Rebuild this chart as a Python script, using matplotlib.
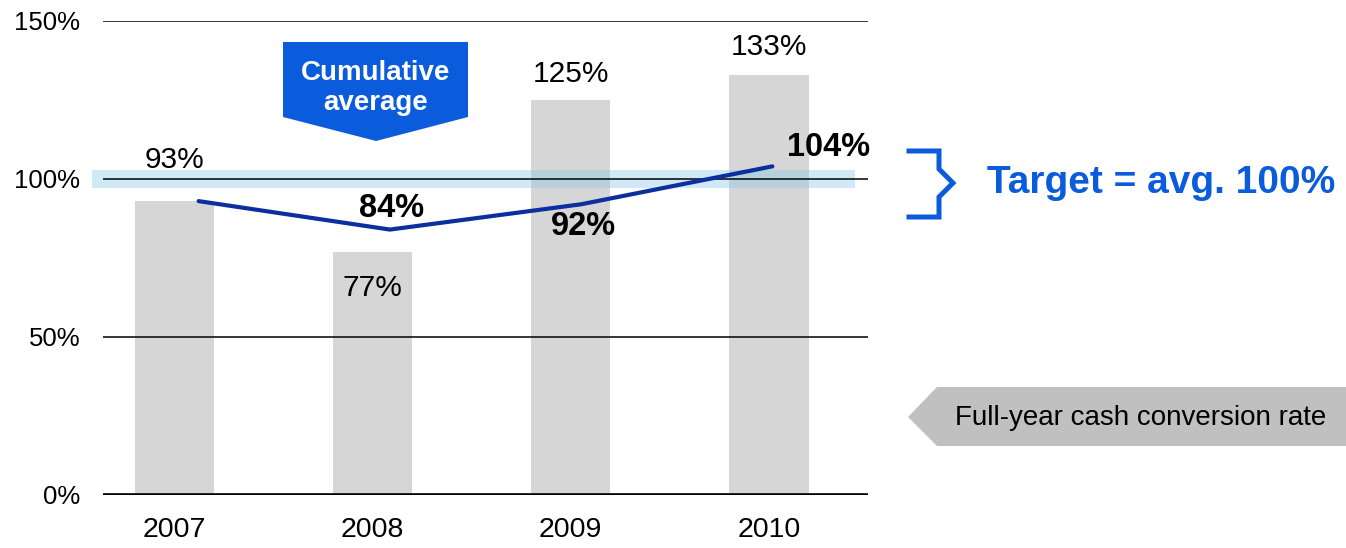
import matplotlib
matplotlib.use("Agg")
import matplotlib.pyplot as plt
from matplotlib.patches import Polygon
from matplotlib.lines import Line2D

plt.rcParams['font.family'] = ['Liberation Sans', 'DejaVu Sans']

# Data
years = ["2007", "2008", "2009", "2010"]
annual_rate = [93, 77, 125, 133]          # full-year cash conversion rate, %
cumulative_avg = [93, 84, 92, 104]        # cumulative average, %
y_ticks = [0, 50, 100, 150]
target_band = (97, 103)

BLUE = '#0A5CDC'
NAVY = '#0B2F9E'
BAR_GREY = '#D6D6D6'

W, H = 1346, 548
fig = plt.figure(figsize=(W / 100, H / 100), dpi=100)


def fx(px):
    return px / W


def fy(py):
    return 1 - py / H


ax = fig.add_axes([fx(103), fy(495), fx(868) - fx(103), fy(21) - fy(495)])
xs = list(range(len(years)))
ax.bar(xs, annual_rate, width=0.4, color=BAR_GREY, zorder=1)
ax.set_xlim(-0.36, 3.5)
ax.set_ylim(0, 150)

# target band around 100%
ax.axhspan(target_band[0], target_band[1], xmin=-0.0144, xmax=0.983,
           color='#87C8EB', alpha=0.4, lw=0, zorder=2, clip_on=False)

# horizontal gridlines
for v in y_ticks[1:]:
    ax.axhline(v, color='black', lw=1.1, zorder=3)
ax.axhline(0, color='black', lw=2.6, zorder=3)

for s in ax.spines.values():
    s.set_visible(False)
ax.set_yticks(y_ticks)
ax.set_yticklabels([f"{v}%" for v in y_ticks], fontsize=18.5)
ax.set_xticks(xs)
ax.set_xticklabels(years, fontsize=20.5)
ax.tick_params(axis='y', length=0, pad=16.5)
ax.tick_params(axis='x', length=0, pad=16)

# bar value labels
bar_offsets = [(0, 33), (0, -44), (0, 18), (0, 20)]
for x, v, off in zip(xs, annual_rate, bar_offsets):
    ax.annotate(f"{v}%", (x, v), xytext=off, textcoords='offset pixels',
                ha='center', va='baseline', fontsize=21.5, zorder=5)

# cumulative average line
ax2 = ax.twiny()
ax2.set_xlim(-0.5, 3.5)
ax2.set_ylim(0, 150)
ax2.axis('off')
ax2.plot(xs, cumulative_avg, color=NAVY, lw=3, solid_capstyle='round',
         solid_joinstyle='miter', zorder=4)
avg_offsets = [None, (2, 13), (2, -31), (56, 10)]
for x, v, off in zip(xs, cumulative_avg, avg_offsets):
    if off is None:
        continue
    ax2.annotate(f"{v}%", (x, v), xytext=off, textcoords='offset pixels',
                 ha='center', va='baseline', fontsize=23.5,
                 fontweight='bold', zorder=5)

# "Cumulative average" callout
callout = Polygon([(fx(283), fy(42)), (fx(468), fy(42)), (fx(468), fy(117)),
                   (fx(376), fy(141)), (fx(283), fy(117))],
                  closed=True, transform=fig.transFigure, color=BLUE, lw=0)
fig.patches.append(callout)
fig.text(fx(376), fy(80), "Cumulative", color='white', fontsize=20,
         fontweight='bold', ha='center', va='baseline')
fig.text(fx(376), fy(110), "average", color='white', fontsize=20,
         fontweight='bold', ha='center', va='baseline')

# target bracket and label
bracket_px = [(909, 151), (939, 151), (939, 169), (953, 183),
              (939, 197), (939, 217), (909, 217)]
fig.lines.append(Line2D([fx(p[0]) for p in bracket_px],
                        [fy(p[1]) for p in bracket_px],
                        transform=fig.transFigure, color=BLUE, lw=3.6,
                        solid_joinstyle='miter'))
fig.text(fx(987), fy(193), "Target = avg. 100%", color=BLUE, fontsize=28,
         fontweight='bold', ha='left', va='baseline')

# series tag
tag = Polygon([(fx(908), fy(417)), (fx(937), fy(387)), (fx(1346), fy(387)),
               (fx(1346), fy(446)), (fx(937), fy(446))],
              closed=True, transform=fig.transFigure, color='#C0C0C0', lw=0)
fig.patches.append(tag)
fig.text(fx(955), fy(425), "Full-year cash conversion rate", color='black',
         fontsize=20, ha='left', va='baseline')

fig.savefig("out.png", dpi=100)
